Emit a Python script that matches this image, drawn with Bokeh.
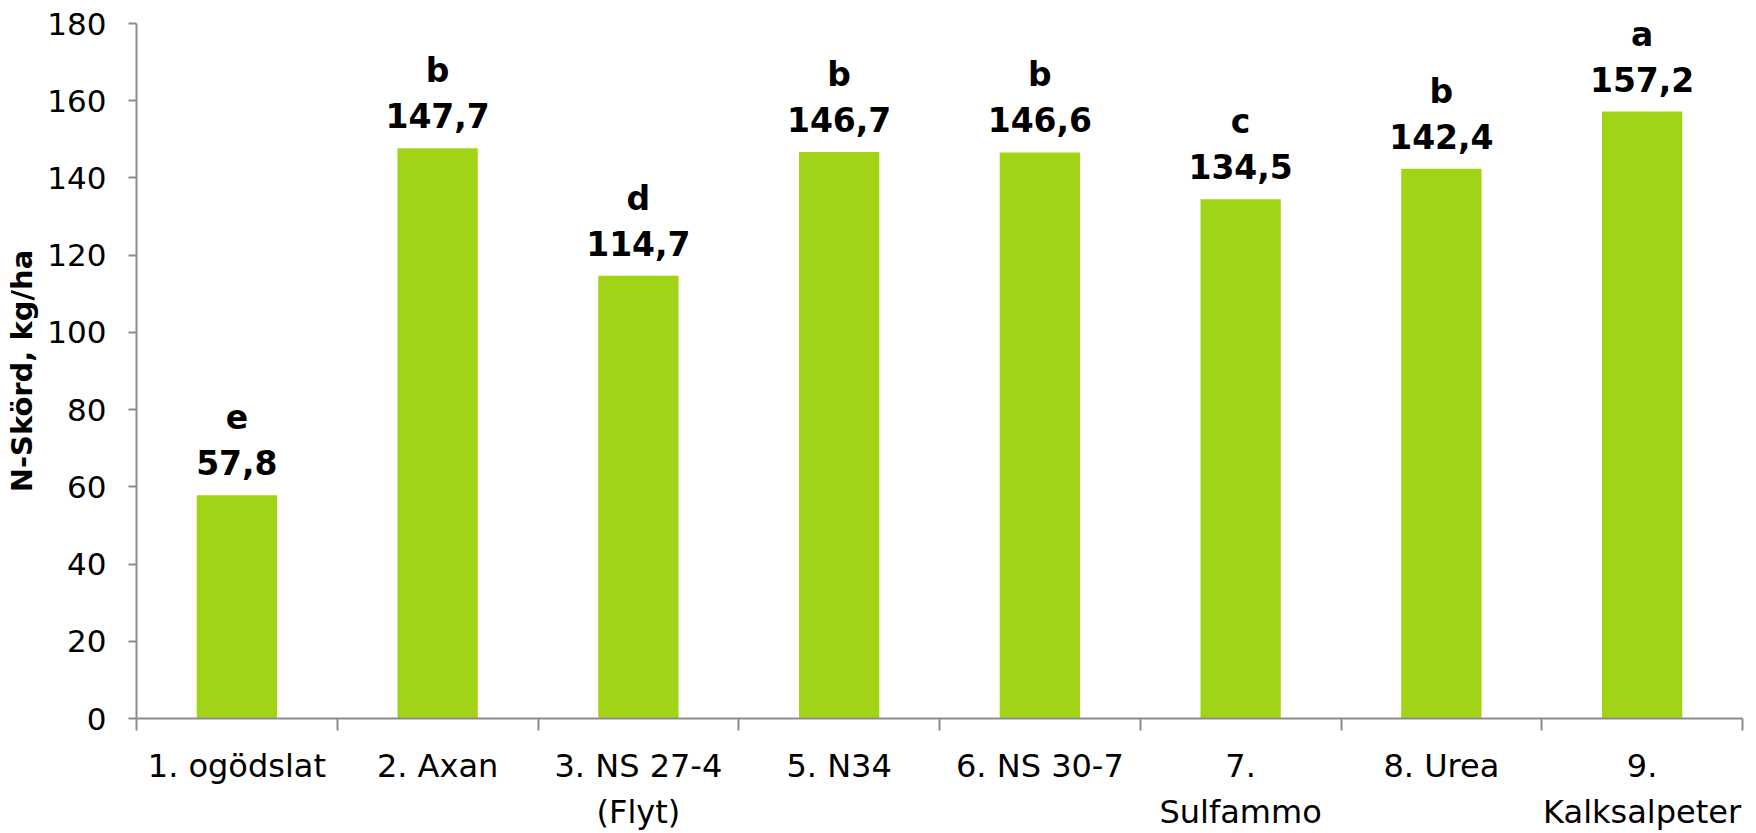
from bokeh.plotting import figure
from bokeh.models import ColumnDataSource, FixedTicker, LabelSet, Range1d
from bokeh.core.properties import value
from bokeh.embed import file_html
from bokeh.resources import INLINE

categories = ["1. ogödslat", "2. Axan", "3. NS 27-4\n(Flyt)", "5. N34", "6. NS 30-7",
              "7.\nSulfammo", "8. Urea", "9.\nKalksalpeter"]
values = [57.8, 147.7, 114.7, 146.7, 146.6, 134.5, 142.4, 157.2]
letters = ["e", "b", "d", "b", "b", "c", "b", "a"]
y_ticks = [0, 20, 40, 60, 80, 100, 120, 140, 160, 180]

xs = list(range(1, len(categories) + 1))
value_text = [f"{v:.1f}".replace(".", ",") for v in values]
src = ColumnDataSource(dict(x=xs, top=values, vt=value_text, lt=letters))

FONT = "DejaVu Sans"
AXIS_GRAY = "#8C8C8C"
GREEN = "#A1D317"

p = figure(width=1756, height=833, output_backend="svg", toolbar_location=None,
           x_range=Range1d(0.5, len(categories) + 0.5), y_range=Range1d(0, 180),
           min_border_left=136, min_border_right=14, min_border_top=23, min_border_bottom=115)
p.outline_line_color = None
p.xgrid.visible = False
p.ygrid.visible = False

p.vbar(x="x", top="top", width=0.4, bottom=0, source=src, fill_color=GREEN, line_color=None)

def labels(text_col, off):
    return LabelSet(x="x", y="top", text=text_col, source=src, y_offset=off,
                    text_align="center", text_baseline="alphabetic",
                    text_font=value(FONT), text_font_style="bold",
                    text_font_size=value("33px"), text_color="black")

p.add_layout(labels("vt", 20))
p.add_layout(labels("lt", 66))

# x axis: category labels at centres, ticks at category boundaries
xa = p.xaxis[0]
xa.ticker = FixedTicker(ticks=xs, minor_ticks=[i + 0.5 for i in range(0, len(categories) + 1)])
xa.major_label_overrides = {i: c for i, c in zip(xs, categories)}
xa.major_tick_out = 0
xa.major_tick_in = 0
xa.minor_tick_out = 12
xa.minor_tick_in = 0
xa.minor_tick_line_color = AXIS_GRAY
xa.minor_tick_line_width = 2
xa.axis_line_color = AXIS_GRAY
xa.axis_line_width = 2
xa.major_label_standoff = 16
xa.major_label_text_font = FONT
xa.major_label_text_font_size = "32px"
xa.major_label_text_color = "black"
xa.major_label_text_line_height = 1.22

# y axis
ya = p.yaxis[0]
ya.ticker = FixedTicker(ticks=y_ticks)
ya.minor_tick_line_color = None
ya.major_tick_out = 8
ya.major_tick_in = 0
ya.major_tick_line_color = AXIS_GRAY
ya.major_tick_line_width = 2
ya.axis_line_color = AXIS_GRAY
ya.axis_line_width = 2
ya.major_label_standoff = 22
ya.major_label_text_font = FONT
ya.major_label_text_font_size = "31px"
ya.major_label_text_color = "black"
ya.axis_label = "N-Skörd, kg/ha"
ya.axis_label_text_font = FONT
ya.axis_label_text_font_style = "bold"
ya.axis_label_text_font_size = "29px"
ya.axis_label_text_color = "black"
ya.axis_label_standoff = 5

open("out.html", "w").write(file_html(p, INLINE))
